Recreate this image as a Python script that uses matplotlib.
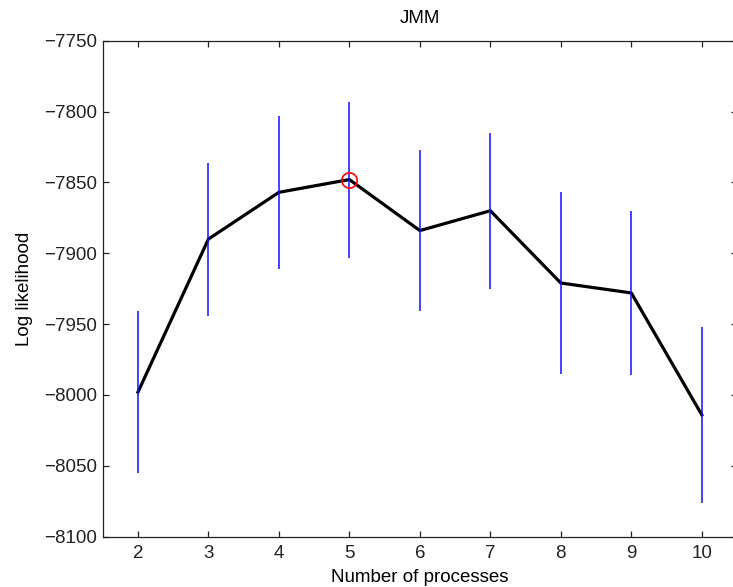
import matplotlib.pyplot as plt
import numpy as np

plt.rcParams['font.family'] = ['Liberation Sans', 'DejaVu Sans']

processes = [2, 3, 4, 5, 6, 7, 8, 9, 10]
log_lik = [-7998, -7890, -7857, -7848, -7884, -7870, -7921, -7928, -8014]
lik_err = [57, 54, 54, 55, 57, 55, 64, 58, 62]
best = 5

fig = plt.figure(figsize=(7.33, 5.87), dpi=100)
ax = fig.add_axes([0.1401, 0.0857, 0.8654, 0.845])

ax.plot(processes, log_lik, color='black', linewidth=2.3, zorder=2)
ax.errorbar(processes, log_lik, yerr=lik_err, fmt='none', ecolor='#1010ff',
            elinewidth=1.1, capsize=0, zorder=3)
ax.plot(best, log_lik[processes.index(best)], 'o', markersize=11,
        markerfacecolor='none', markeredgecolor='red', markeredgewidth=1.2, zorder=4)

fs = 13.5
ax.set_xlim(1.5, 10.5)
ax.set_ylim(-8100, -7750)
ax.set_xticks(processes)
ax.set_yticks(np.arange(-8100, -7749, 50))
ax.tick_params(direction='in', length=4.5, width=0.9, top=True, right=True,
               labelsize=fs, colors='#222222', pad=6)
ax.tick_params(axis='y', pad=4)
for s in ax.spines.values():
    s.set_linewidth(0.9)
    s.set_color('#222222')

ax.set_title('JMM', fontsize=fs, pad=13)
ax.set_xlabel('Number of processes', fontsize=fs, labelpad=5)
ax.set_ylabel('Log likelihood', fontsize=fs, labelpad=8)

fig.savefig('out.png', dpi=100)
